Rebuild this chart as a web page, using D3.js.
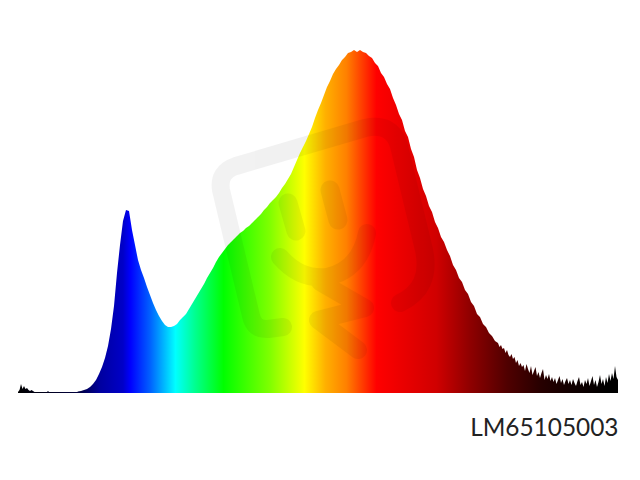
<!DOCTYPE html>
<html><head><meta charset="utf-8">
<script src="https://cdn.jsdelivr.net/npm/d3@7"></script>
<style>html,body{margin:0;padding:0;background:#fff;overflow:hidden}svg{display:block}</style>
</head><body><svg id="c" width="640" height="480"></svg>
<script>
const leftTail = [1,3,9,4,7,4,5,3,2,3,2,1,1,1,.5,1,.5,1,.5,.5,2,.5,.5,1,.5,1,.5,.5,.5,.5,.5,1,.5,1,.5,.5,.5,.5,1,.5];
const body = [1.5,2,3,4,6,9,13,19,26,35,47,64,87,120,148,172,183,182,163,148,133,123,115,106,98,90,83,77,72,68,66,66,67,69,73,76,79,84,89,94,99,104,109,115,120,125,131,136,140,144,148,151,154,157,160,162,165,167,170,173,176,179,183,186,190,193,196,200,205,209,214,219,226,233,240,246,252,259,266,275,283,290,298,306,312,319,324,328,333,336,340,341,343,341,343,341,340,337,335,330,327,320,316,309,304,295,288,279,273,262,256,244,236,223,215,204,197,187,181,171,165,156,151,143,137,128,123,115,111,103,99,91,87,79,76,69,66,60,57,52];
const rightTail = [50,46,48,44,45,40,43,38,36,39,34,36,30,33,27,30,26,28,22,29,24,20,27,18,22,26,17,21,15,20,24,13,18,14,19,12,16,11,15,9,13,17,10,14,8,12,15,9,13,8,14,10,7,12,16,8,11,6,13,9,15,7,12,17,8,13,6,11,18,9,14,7,16,10,19,12,20,14,27,16,13];
const stopNm = [380,421,435,450,455,468,485,498,517,548,571,585,599,619,659,681,706,728,750,773,780];
const stopColors = ["#000000","#000040","#0000a0","#0000c8","#0000ff","#0060ff","#00ffff","#00ff90","#00ff00","#80ff00","#ffff00","#ffb000","#ff8000","#ff0000","#d00000","#900000","#500000","#280000","#100000","#000000","#000000"];
const label = "LM65105003";

const series = [
  ...leftTail.map((v,i)=>({nm:380+i,v})),
  ...body.map((v,i)=>({nm:420+2*i,v})),
  ...rightTail.map((v,i)=>({nm:700+i,v}))
];
const x = d3.scaleLinear().domain([380,780]).range([18,618]);
const y = d3.scaleLinear().domain([0,343]).range([393,50]);
const svg = d3.select("#c");
svg.append("rect").attr("width",640).attr("height",480).attr("fill","#fff");
const g = svg.append("defs").append("linearGradient").attr("id","spec")
  .attr("gradientUnits","userSpaceOnUse").attr("x1",x(380)).attr("x2",x(780)).attr("y1",0).attr("y2",0);
stopNm.forEach((n,i)=>g.append("stop").attr("offset",(n-380)/400).attr("stop-color",stopColors[i]));
svg.append("path").datum(series)
  .attr("d",d3.area().x(d=>x(d.nm)).y0(y(0)).y1(d=>y(d.v)))
  .attr("fill","url(#spec)");
svg.append("rect").attr("x",x(380)).attr("width",x(780)-x(380)).attr("y",y(0)-1).attr("height",1)
  .attr("fill","url(#spec)");

const wm = svg.append("g").attr("opacity",0.05).attr("fill","none").attr("stroke","#000")
  .attr("stroke-linecap","round").attr("stroke-linejoin","round");
wm.append("path").attr("stroke-width",18)
  .attr("d","M283,327 L268,329 Q254,330 251,316 L221,190 Q218,172 236,166 L365,128 Q392,122 399,146 L424,250 Q432,288 400,303");
wm.append("path").attr("stroke-width",19).attr("d","M288,203 L296,231 M330,190 L338,220");
wm.append("path").attr("stroke-width",18).attr("d","M280,257 Q300,280 327,277 Q360,270 367,233");
wm.append("path").attr("stroke-width",18).attr("d","M320,282 L365,308 L318,320 L358,350");

svg.append("text").attr("x",618.5).attr("y",436).attr("text-anchor","end")
  .attr("font-family","Lato, 'Open Sans', sans-serif").attr("font-size",24.4).attr("fill","#222").text(label);
</script></body></html>
